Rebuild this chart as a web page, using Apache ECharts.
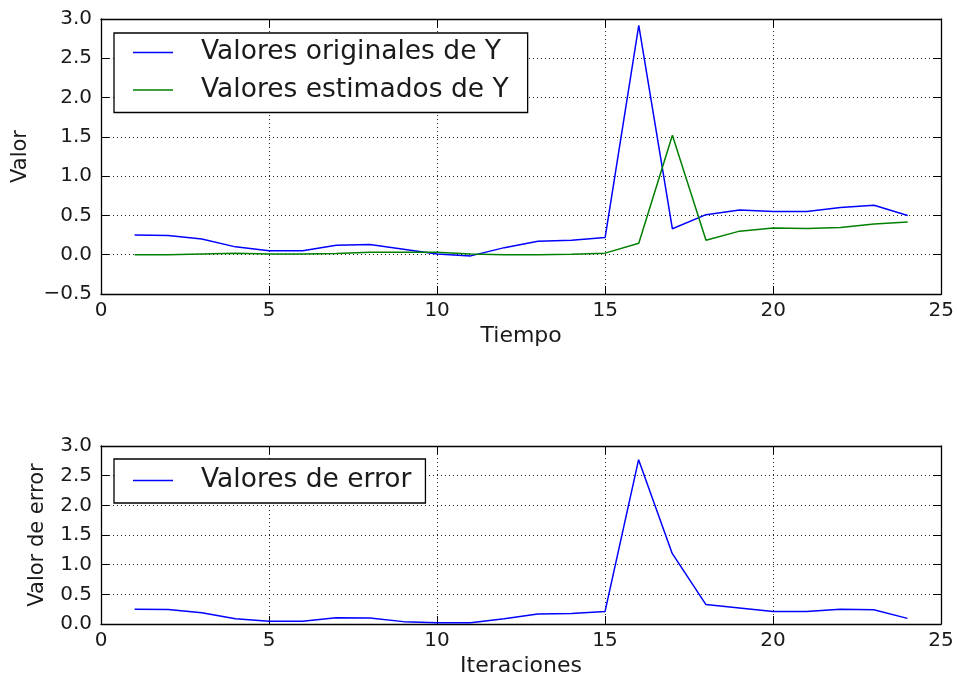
<!DOCTYPE html>
<html>
<head>
<meta charset="utf-8">
<script src="https://cdn.jsdelivr.net/npm/echarts@6/dist/echarts.min.js"></script>
<style>
  html, body { margin: 0; padding: 0; background: #fff; }
  #chart { width: 957px; height: 681px; }
</style>
</head>
<body>
<div id="chart"></div>
<script>
// Time steps / iterations 1..24
const tiempo = [1, 2, 3, 4, 5, 6, 7, 8, 9, 10, 11, 12, 13, 14, 15, 16, 17, 18, 19, 20, 21, 22, 23, 24];

// Original Y values
const valoresOriginales = [0.25, 0.245, 0.20, 0.10, 0.05, 0.05, 0.12, 0.13, 0.07, 0.01, -0.015, 0.09,
  0.17, 0.185, 0.22, 2.92, 0.33, 0.51, 0.57, 0.55, 0.55, 0.60, 0.63, 0.50];

// Estimated Y values
const valoresEstimados = [0.0, 0.0, 0.01, 0.02, 0.01, 0.01, 0.015, 0.03, 0.03, 0.03, 0.01, 0.0,
  0.0, 0.005, 0.02, 0.145, 1.52, 0.185, 0.30, 0.34, 0.335, 0.345, 0.39, 0.415];

// Error per iteration
const valoresError = [0.25, 0.245, 0.19, 0.09, 0.045, 0.045, 0.107, 0.10, 0.04, 0.02, 0.02, 0.09,
  0.17, 0.175, 0.21, 2.77, 1.19, 0.33, 0.27, 0.21, 0.21, 0.25, 0.24, 0.095];

const FONT = 'DejaVu Sans';
const pairs = (xs, ys) => xs.map((x, i) => [x, ys[i]]);

const tickLabel = { fontFamily: FONT, fontSize: 20, color: '#1a1a1a' };
const dotted = { show: true, lineStyle: { color: '#222', width: 1, type: [1, 3] } };
const frameLine = { show: true, onZero: false, lineStyle: { color: '#000', width: 1.3 } };
const innerTick = { show: true, inside: true, length: 8, lineStyle: { color: '#000' } };

function xAxes(gridIndex, name) {
  return [
    {
      type: 'value', gridIndex, min: 0, max: 25, interval: 5,
      name, nameLocation: 'middle', nameGap: 31,
      nameTextStyle: { fontFamily: FONT, fontSize: 22, color: '#1a1a1a' },
      axisLine: frameLine,
      axisTick: innerTick,
      axisLabel: Object.assign({ margin: 7 }, tickLabel),
      splitLine: dotted
    },
    {
      type: 'value', gridIndex, position: 'top', min: 0, max: 25, interval: 5,
      axisLine: frameLine,
      axisTick: innerTick,
      axisLabel: { show: false },
      splitLine: { show: false }
    }
  ];
}

function yAxes(gridIndex, min, max, name, gap) {
  return [
    {
      type: 'value', gridIndex, min, max, interval: 0.5,
      name, nameLocation: 'middle', nameGap: gap,
      nameTextStyle: { fontFamily: FONT, fontSize: 21, color: '#1a1a1a' },
      axisLine: frameLine,
      axisTick: innerTick,
      axisLabel: Object.assign({
        margin: 9,
        formatter: v => (v < 0 ? '\u2212' + Math.abs(v).toFixed(1) : v.toFixed(1))
      }, tickLabel),
      splitLine: dotted
    },
    {
      type: 'value', gridIndex, position: 'right', min, max, interval: 0.5,
      axisLine: frameLine,
      axisTick: innerTick,
      axisLabel: { show: false },
      splitLine: { show: false }
    }
  ];
}

const legendBase = {
  orient: 'vertical',
  backgroundColor: '#fff',
  borderColor: '#000',
  borderWidth: 1.3,
  borderRadius: 0,
  itemWidth: 40,
  itemHeight: 10,
  icon: 'path://M0,0 L40,0 L40,1.5 L0,1.5 Z',
  formatter: '{t|{name}}',
  textStyle: {
    rich: { t: { fontFamily: FONT, fontSize: 26.5, color: '#1a1a1a', padding: [0, 0, 0, 23] } }
  }
};

const lineSeries = (name, data, color, xi, yi) => ({
  name, type: 'line', data, xAxisIndex: xi, yAxisIndex: yi,
  showSymbol: false, symbol: 'none', animation: false,
  lineStyle: { color, width: 1.5 }, itemStyle: { color }
});

const chart = echarts.init(document.getElementById('chart'), null, { renderer: 'canvas' });
chart.setOption({
  backgroundColor: '#fff',
  animation: false,
  grid: [
    { left: 101, top: 19, width: 841, height: 275 },
    { left: 101, top: 446, width: 840, height: 178 }
  ],
  xAxis: [...xAxes(0, 'Tiempo'), ...xAxes(1, 'Iteraciones')],
  yAxis: [...yAxes(0, -0.5, 3, 'Valor', 70), ...yAxes(1, 0, 3, 'Valor de error', 53)],
  legend: [
    Object.assign({}, legendBase, {
      left: 114, top: 33, padding: [6, 19, 9, 19], itemGap: 10.5,
      data: ['Valores originales de Y', 'Valores estimados de Y']
    }),
    Object.assign({}, legendBase, {
      left: 114, top: 459, padding: [8, 14, 9, 19],
      data: ['Valores de error']
    })
  ],
  series: [
    lineSeries('Valores originales de Y', pairs(tiempo, valoresOriginales), '#0000ff', 0, 0),
    lineSeries('Valores estimados de Y', pairs(tiempo, valoresEstimados), '#008000', 0, 0),
    lineSeries('Valores de error', pairs(tiempo, valoresError), '#0000ff', 2, 2)
  ]
});
</script>
</body>
</html>
